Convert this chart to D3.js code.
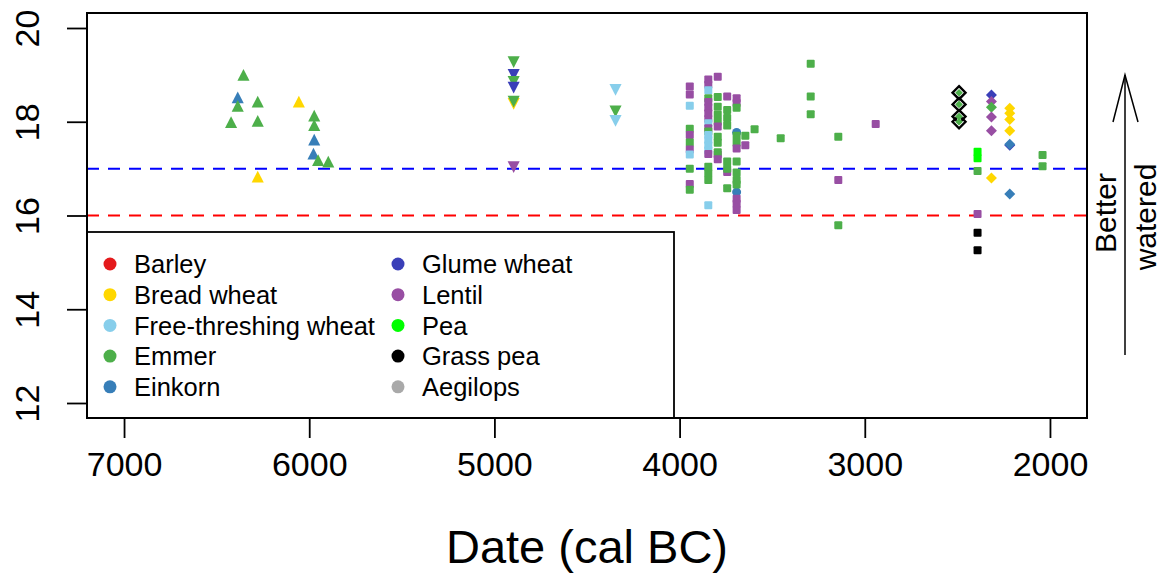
<!DOCTYPE html>
<html>
<head>
<meta charset="utf-8">
<script src="https://cdn.jsdelivr.net/npm/d3@7"></script>
<style>
body{margin:0;background:#fff;}
text{font-family:"Liberation Sans",Arial,Helvetica,sans-serif;fill:#000;}
</style>
</head>
<body>
<svg id="chart" width="1161" height="574"></svg>
<script>
// crop categories and their colours
var crops = ["Barley","Bread wheat","Free-threshing wheat","Emmer","Einkorn",
             "Glume wheat","Lentil","Pea","Grass pea","Aegilops"]
var cropColours = ["#E41A1C","#FFD700","#87CEEB","#4DAF4A","#377EB8",
                   "#3A3FB8","#984EA3","#00FF00","#000000","#A9A9A9"]

// [date cal BC, crop, value]
var earlySites = [
  [6355,"Emmer",18.98],[6386,"Einkorn",18.50],[6386,"Emmer",18.32],[6278,"Emmer",18.41],
  [6422,"Emmer",17.97],[6278,"Emmer",18.00],[6056,"Bread wheat",18.41],[5973,"Emmer",18.11],
  [5973,"Emmer",17.91],[5973,"Einkorn",17.60],[5977,"Einkorn",17.30],[5952,"Emmer",17.16],
  [5897,"Emmer",17.13],[6278,"Bread wheat",16.81]
]
var middleSites = [
  [4896,"Emmer",19.29],[4896,"Glume wheat",19.02],[4896,"Emmer",18.87],[4896,"Glume wheat",18.75],
  [4896,"Bread wheat",18.40],[4896,"Emmer",18.45],[4896,"Lentil",17.05],
  [4346,"Free-threshing wheat",18.70],[4346,"Emmer",18.24],[4346,"Free-threshing wheat",18.04]
]
var lateCircles = [
  [3692,"Einkorn",17.77],[3692,"Einkorn",16.50]
]
var lateSites = [
  [3945,"Lentil",18.75],[3945,"Lentil",18.58],[3945,"Free-threshing wheat",18.34],[3945,"Emmer",17.85],
  [3945,"Lentil",17.72],[3945,"Emmer",17.56],[3945,"Lentil",17.41],[3945,"Free-threshing wheat",17.30],
  [3945,"Emmer",17.00],[3945,"Lentil",16.67],[3945,"Emmer",16.55],
  [3845,"Lentil",18.90],[3845,"Lentil",18.79],[3845,"Free-threshing wheat",18.67],[3845,"Emmer",18.50],
  [3845,"Lentil",18.42],[3845,"Lentil",18.30],[3845,"Lentil",18.18],[3845,"Lentil",18.06],
  [3845,"Free-threshing wheat",17.97],[3845,"Lentil",17.86],[3845,"Emmer",17.79],
  [3845,"Free-threshing wheat",17.72],[3845,"Free-threshing wheat",17.61],[3845,"Free-threshing wheat",17.50],
  [3845,"Free-threshing wheat",17.39],[3845,"Lentil",17.31],[3845,"Emmer",17.04],[3845,"Emmer",16.90],
  [3845,"Emmer",16.76],[3845,"Free-threshing wheat",16.22],
  [3794,"Lentil",18.96],[3794,"Emmer",18.53],[3794,"Emmer",18.32],[3794,"Emmer",18.15],
  [3794,"Emmer",18.00],[3794,"Lentil",17.90],[3794,"Emmer",17.68],[3794,"Emmer",17.55],
  [3794,"Lentil",17.30],[3794,"Emmer",17.35],[3794,"Lentil",17.20],
  [3743,"Lentil",18.54],[3743,"Emmer",18.25],[3743,"Emmer",18.08],[3743,"Emmer",17.92],
  [3743,"Emmer",17.15],[3743,"Lentil",16.93],[3743,"Emmer",17.00],[3743,"Emmer",16.58],
  [3692,"Lentil",18.50],[3692,"Lentil",18.40],[3692,"Emmer",18.30],[3692,"Emmer",17.70],
  [3692,"Emmer",17.55],[3692,"Lentil",17.43],[3692,"Emmer",17.15],[3692,"Emmer",16.92],
  [3692,"Emmer",16.76],[3692,"Emmer",16.66],[3692,"Lentil",16.36],[3692,"Lentil",16.25],
  [3692,"Lentil",16.12],
  [3645,"Emmer",17.70],[3645,"Lentil",17.50],[3595,"Emmer",17.84],[3454,"Emmer",17.65],
  [3292,"Emmer",19.24],[3292,"Emmer",18.54],[3292,"Emmer",18.16],[2941,"Lentil",17.95],
  [3143,"Emmer",17.68],[3143,"Lentil",16.76],[3143,"Emmer",15.79],
  [2391,"Pea",17.36],[2391,"Pea",17.22],[2391,"Emmer",16.95],[2391,"Lentil",16.03],
  [2391,"Grass pea",15.63],[2391,"Grass pea",15.26],
  [2040,"Emmer",17.29],[2040,"Emmer",17.05]
]
var finalSites = [
  [2491,"Grass pea",18.62],[2491,"Grass pea",18.37],[2491,"Grass pea",18.11],[2491,"Grass pea",18.00],
  [2491,"Emmer",18.62],[2491,"Emmer",18.37],[2491,"Emmer",18.11],[2491,"Emmer",18.00],
  [2316,"Glume wheat",18.57],[2316,"Lentil",18.43],[2316,"Emmer",18.31],[2316,"Lentil",18.10],
  [2316,"Lentil",17.81],[2316,"Bread wheat",16.80],
  [2217,"Bread wheat",18.29],[2217,"Bread wheat",18.18],[2217,"Bread wheat",18.05],[2217,"Bread wheat",17.81],
  [2217,"Glume wheat",17.50],[2217,"Einkorn",17.52],[2217,"Einkorn",16.46]
]

var xTicks = [7000,6000,5000,4000,3000,2000]
var yTicks = [12,14,16,18,20]
var refLines = [17,16]

var svg = d3.select("#chart")
var plot = {left:87,right:1087,top:13,bottom:418}

var xScale = d3.scaleLinear().domain([7200,1800]).range([plot.left,plot.right])
var yScale = d3.scaleLinear().domain([11.68,20.32]).range([plot.bottom,plot.top])
var colour = d3.scaleOrdinal().domain(crops).range(cropColours)

// reference lines
svg.selectAll(".ref")
  .data(refLines)
  .enter()
  .append("line")
  .attr("x1",plot.left).attr("x2",plot.right)
  .attr("y1",function(d){return yScale(d)})
  .attr("y2",function(d){return yScale(d)})
  .attr("stroke",function(d,i){return i==0?"#0000FF":"#FF0000"})
  .attr("stroke-width",2)
  .attr("stroke-dasharray","12,9")

// marker shapes
var triUp = function(s){return "M0,"+(-s*0.62)+"L"+(s*0.55)+","+(s*0.45)+"L"+(-s*0.55)+","+(s*0.45)+"Z"}
var triDown = function(s){return "M0,"+(s*0.62)+"L"+(s*0.55)+","+(-s*0.45)+"L"+(-s*0.55)+","+(-s*0.45)+"Z"}
var diamond = function(s){return "M0,"+(-s)+"L"+s+",0L0,"+s+"L"+(-s)+",0Z"}

var drawPath = function(data,shape,size)
{
  svg.append("g").selectAll("path")
    .data(data)
    .enter()
    .append("path")
    .attr("transform",function(d){return "translate("+xScale(d[0])+","+yScale(d[2])+")"})
    .attr("d",shape(size))
    .attr("fill",function(d){return colour(d[1])})
}

drawPath(earlySites,triUp,11)
drawPath(middleSites,triDown,11)

svg.append("g").selectAll("circle")
  .data(lateCircles)
  .enter()
  .append("circle")
  .attr("cx",function(d){return xScale(d[0])})
  .attr("cy",function(d){return yScale(d[2])})
  .attr("r",4.5)
  .attr("fill",function(d){return colour(d[1])})

svg.append("g").selectAll("rect")
  .data(lateSites)
  .enter()
  .append("rect")
  .attr("x",function(d){return xScale(d[0])-4})
  .attr("y",function(d){return yScale(d[2])-4})
  .attr("width",8).attr("height",8)
  .attr("rx",1)
  .attr("fill",function(d){return colour(d[1])})

// grass pea drawn as open diamonds, the rest filled
svg.append("g").selectAll("path")
  .data(finalSites)
  .enter()
  .append("path")
  .attr("transform",function(d){return "translate("+xScale(d[0])+","+yScale(d[2])+")"})
  .attr("d",function(d){return d[1]=="Grass pea"?diamond(6.5):diamond(d[1]=="Emmer"&&d[0]==2491?3.8:5.5)})
  .attr("fill",function(d){return d[1]=="Grass pea"?"none":colour(d[1])})
  .attr("stroke",function(d){return d[1]=="Grass pea"?"#000":"none"})
  .attr("stroke-width",2.4)

// axes
var xAxis = d3.axisBottom(xScale).tickValues(xTicks).tickSize(20).tickPadding(14).tickFormat(d3.format("d"))
var gx = svg.append("g")
  .attr("transform","translate(0,"+plot.bottom+")")
  .call(xAxis)
gx.select(".domain").remove()
gx.selectAll("line").attr("stroke","#000").attr("stroke-width",1.8)
gx.selectAll("text").style("font-size","34px").attr("fill","#000")

var yAxis = d3.axisLeft(yScale).tickValues(yTicks).tickSize(20)
var gy = svg.append("g")
  .attr("transform","translate("+plot.left+",0)")
  .call(yAxis)
gy.select(".domain").remove()
gy.selectAll("line").attr("stroke","#000").attr("stroke-width",1.8)
gy.selectAll("text")
  .attr("x",0).attr("dy","0.35em")
  .attr("transform","translate(-60,0) rotate(-90)")
  .attr("text-anchor","middle")
  .style("font-size","34px").attr("fill","#000")

// legend
var legend = svg.append("g")
legend.append("rect")
  .attr("x",plot.left).attr("y",232)
  .attr("width",674-plot.left).attr("height",plot.bottom-232)
  .attr("fill","#fff").attr("stroke","#000").attr("stroke-width",1.8)

var items = legend.selectAll(".item")
  .data(crops)
  .enter()
  .append("g")
  .attr("transform",function(d,i){
      return "translate("+(i<5?110:398)+","+(264+(i%5)*30.7)+")"})
items.append("circle").attr("r",6.5).attr("fill",function(d){return colour(d)})
items.append("text").attr("x",24).attr("dy","0.36em")
  .style("font-size","25.5px").text(function(d){return d})

// plot box
svg.append("rect")
  .attr("x",plot.left).attr("y",plot.top)
  .attr("width",plot.right-plot.left).attr("height",plot.bottom-plot.top)
  .attr("fill","none").attr("stroke","#000").attr("stroke-width",2)

// axis title
svg.append("text")
  .attr("x",(plot.left+plot.right)/2).attr("y",563)
  .attr("text-anchor","middle")
  .style("font-size","47px")
  .text("Date (cal BC)")

// "Better watered" arrow in right margin
var arrow = svg.append("g")
arrow.append("line").attr("x1",1125).attr("x2",1125).attr("y1",355).attr("y2",75)
  .attr("stroke","#000").attr("stroke-width",1.5)
arrow.append("path").attr("d","M1113,122L1125,75L1138,122")
  .attr("fill","none").attr("stroke","#000").attr("stroke-width",1.5)
arrow.append("text").attr("transform","translate(1105,213) rotate(-90)")
  .attr("text-anchor","middle").attr("dy","0.36em")
  .style("font-size","30px").text("Better")
arrow.append("text").attr("transform","translate(1145,217) rotate(-90)")
  .attr("text-anchor","middle").attr("dy","0.36em")
  .style("font-size","30px").text("watered")
</script>
</body>
</html>
